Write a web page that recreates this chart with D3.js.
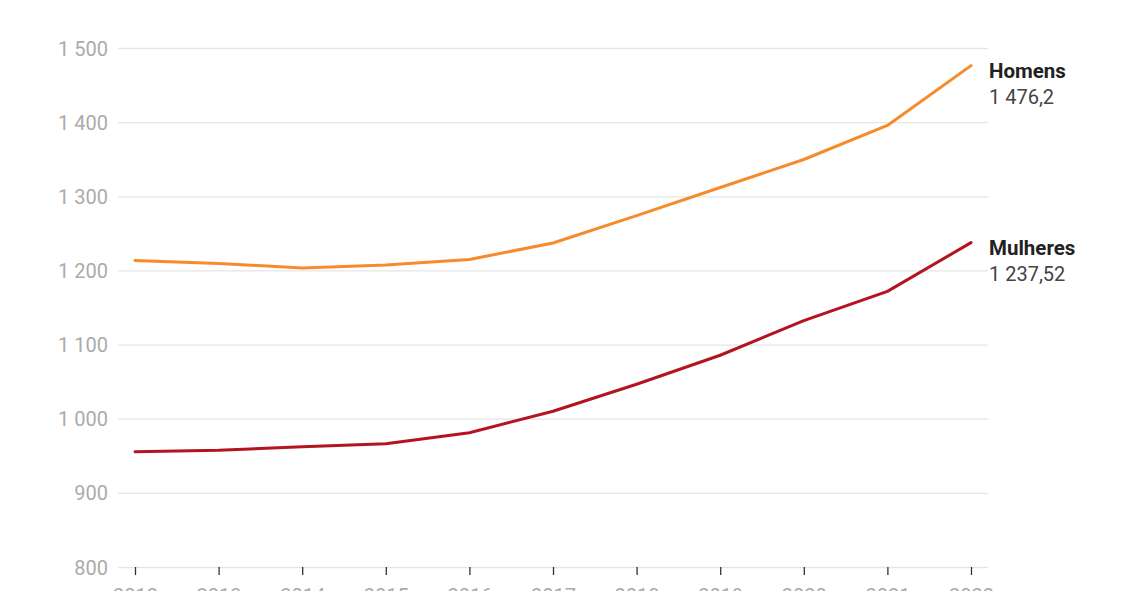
<!DOCTYPE html>
<html>
<head>
<meta charset="utf-8">
<script src="https://cdn.jsdelivr.net/npm/d3@7"></script>
<style>
  body { margin: 0; background: #fff; }
  svg { display: block; font-family: Roboto, sans-serif; }
</style>
</head>
<body>
<div id="chart"></div>
<script>
const years = [2012, 2013, 2014, 2015, 2016, 2017, 2018, 2019, 2020, 2021, 2022];
const homens = [1213.5, 1209.4, 1203.4, 1207.4, 1214.8, 1237, 1274, 1311.9, 1349.6, 1395.5, 1476.2];
const mulheres = [955.5, 957.5, 962.2, 966.3, 981.1, 1010.1, 1046.5, 1085.6, 1132.2, 1171.7, 1237.52];
const yTicks = [800, 900, 1000, 1100, 1200, 1300, 1400, 1500];
const seriesNames = ['Homens', 'Mulheres'];
const seriesLabels = ['1 476,2', '1 237,52'];
const colors = ['#f68b2c', '#b3141f'];

const svgWidth = 1128;
const svgHeight = 591;
const margin = { top: 48, right: 157, bottom: 24, left: 135 };
const width = svgWidth - margin.left - margin.right;
const height = svgHeight - margin.top - margin.bottom;

const svg = d3.select('#chart')
    .append('svg')
    .attr('width', svgWidth)
    .attr('height', svgHeight)
    .append('g')
    .attr('transform', 'translate(' + margin.left + ',' + margin.top + ')');

const xScale = d3.scalePoint()
    .domain(years)
    .range([0, width]);

const yScale = d3.scaleLinear()
    .domain([800, 1500])
    .range([height, 0]);

// format with a space as thousands separator
const fmt = d => d3.format(',')(d).replace(/,/g, ' ');

// grid + y labels
const yAxis = svg.append('g')
    .call(d3.axisLeft(yScale).tickValues(yTicks).tickSize(-(width + 34)).tickFormat(fmt))
    .attr('transform', 'translate(-17,0)');
yAxis.select('.domain').remove();
yAxis.selectAll('line').attr('stroke', '#e5e5e5').attr('stroke-width', 1.3);
yAxis.selectAll('text')
    .attr('x', -10)
    .attr('dy', '0.35em')
    .attr('fill', '#ababab')
    .style('font-size', '20px')
    .style('font-family', 'Roboto, sans-serif');

// x axis
const xAxis = svg.append('g')
    .attr('transform', 'translate(0,' + height + ')')
    .call(d3.axisBottom(xScale).tickSize(8).tickPadding(14));
xAxis.select('.domain').remove();
xAxis.selectAll('line').attr('stroke', '#333').attr('stroke-width', 1.3);
xAxis.selectAll('text')
    .attr('fill', '#ababab')
    .style('font-size', '20px')
    .style('font-family', 'Roboto, sans-serif');

const line = d3.line()
    .x((d, i) => xScale(years[i]))
    .y(d => yScale(d));

[homens, mulheres].forEach((series, k) => {
    svg.append('path')
        .datum(series)
        .attr('fill', 'none')
        .attr('stroke', colors[k])
        .attr('stroke-width', 3)
        .attr('stroke-linejoin', 'round')
        .attr('stroke-linecap', 'round')
        .attr('d', line);

    const last = series[series.length - 1];
    const lx = xScale(years[years.length - 1]) + 18;
    const ly = yScale(last);

    svg.append('text')
        .attr('x', lx)
        .attr('y', ly + 12)
        .attr('fill', '#222')
        .style('font-size', '20.5px')
        .style('font-weight', 'bold')
        .text(seriesNames[k]);

    svg.append('text')
        .attr('x', lx)
        .attr('y', ly + 38)
        .attr('fill', '#444')
        .style('font-size', '20px')
        .text(seriesLabels[k]);
});
</script>
</body>
</html>
